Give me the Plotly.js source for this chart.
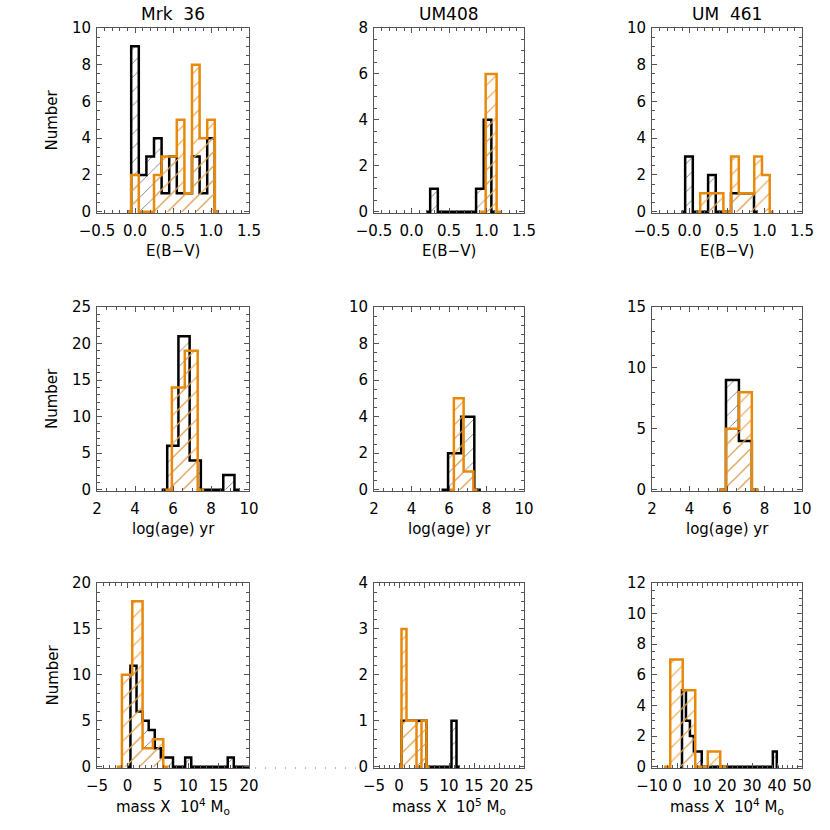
<!DOCTYPE html>
<html>
<head>
<meta charset="utf-8">
<script src="https://cdn.plot.ly/plotly-3.0.1.min.js"></script>
<style>
  body { margin: 0; background: #fff; }
  #plot { width: 830px; height: 830px; }
</style>
</head>
<body>
<div id="plot"></div>
<script>
// histogram counts (first and last entries are the empty end bins)
// E(B-V)
const mrkEbvBlack = [0, 9, 2, 3, 4, 1, 3, 1, 1, 3, 1, 4, 0];
const mrkEbvOrange = [0, 2, 0, 0, 2, 3, 3, 5, 1, 8, 4, 5, 0];
const um408EbvBlack = [0, 1, 0, 0, 0, 0, 0, 1, 4, 0];
const um408EbvOrange = [0, 6, 0];
const um461EbvBlack = [0, 3, 0, 0, 2, 0, 0, 1, 1, 1, 0];
const um461EbvOrange = [0, 1, 1, 1, 0, 3, 1, 1, 3, 2, 0];
// log(age)
const mrkAgeBlack = [0, 6, 21, 4, 0, 0, 2, 0];
const mrkAgeOrange = [0, 14, 19, 0];
const um408AgeBlack = [0, 2, 4, 0];
const um408AgeOrange = [0, 5, 1, 0];
const um461AgeBlack = [0, 9, 4, 0];
const um461AgeOrange = [0, 5, 8, 0];
// mass
const mrkMassBlack = [0, 11, 6, 5, 4, 2, 1, 1, 0, 0, 1, 0, 0, 0, 0, 0, 0, 1, 0, 0, 0];
const mrkMassOrange = [0, 10, 18, 2, 3, 0];
const um408MassBlack = [0, 1, 1, 1, 1, 1, 0, 0, 0, 0, 0, 1, 0];
const um408MassOrange = [0, 3, 1, 1, 0, 1, 0];
const um461MassBlack = [0, 5, 3, 2, 1, 1, 0, 0, 0, 0, 0, 0, 0, 0, 0, 0, 0, 0, 0, 0, 0, 0, 0, 0, 1, 0];
const um461MassOrange = [0, 7, 5, 0, 1, 0];

// centre of the first bin and bin width for each histogram
const binStart = {
  mrkEbvBlack: -0.1, mrkEbvOrange: -0.1, um408EbvBlack: 0.198, um408EbvOrange: 0.916,
  um461EbvBlack: -0.109, um461EbvOrange: 0.091,
  mrkAgeBlack: 5.4, mrkAgeOrange: 5.6, um408AgeBlack: 5.6, um408AgeOrange: 6.0,
  um461AgeBlack: 5.6, um461AgeOrange: 5.6,
  mrkMassBlack: 0, mrkMassOrange: -1.75, um408MassBlack: 0, um408MassOrange: 0,
  um461MassBlack: 1.21, um461MassOrange: -5.2
};
const binWidth = {
  mrkEbvBlack: 0.1, mrkEbvOrange: 0.1, um408EbvBlack: 0.102, um408EbvOrange: 0.146,
  um461EbvBlack: 0.102, um461EbvOrange: 0.103,
  mrkAgeBlack: 0.59, mrkAgeOrange: 0.68, um408AgeBlack: 0.7, um408AgeOrange: 0.52,
  um461AgeBlack: 0.69, um461AgeOrange: 0.69,
  mrkMassBlack: 1, mrkMassOrange: 1.7, um408MassBlack: 1, um408MassOrange: 1,
  um461MassBlack: 1.58, um461MassOrange: 5
};

const galaxies = ['Mrk\u00a0\u00a036', 'UM408', 'UM\u00a0\u00a0461'];
const xTitles = [
  ['E(B\u2212V)', 'E(B\u2212V)', 'E(B\u2212V)'],
  ['log(age)\u00a0yr', 'log(age)\u00a0yr', 'log(age)\u00a0yr'],
  ['mass\u00a0X\u00a0\u00a010<sup>4</sup>\u00a0M<sub>o</sub>', 'mass\u00a0X\u00a0\u00a010<sup>5</sup>\u00a0M<sub>o</sub>', 'mass\u00a0X\u00a0\u00a010<sup>4</sup>\u00a0M<sub>o</sub>']
];

const fam = '"DejaVu Sans", sans-serif';
const axc = '#555';
const orange = '#e8890c';

// panel boxes in pixels
const W = 830, H = 830;
const colPx = [[97, 249], [374, 524], [652, 802]];
const rowPx = [[28, 213], [307, 491], [583, 768]];

// one entry per panel, row by row
const panels = [
  {b: 'mrkEbvBlack', o: 'mrkEbvOrange', xr: [-0.5, 1.5], xd: 0.5, xm: 0.1, xf: '.1f', ymax: 10, yd: 2, ym: 0.5},
  {b: 'um408EbvBlack', o: 'um408EbvOrange', xr: [-0.5, 1.5], xd: 0.5, xm: 0.1, xf: '.1f', ymax: 8, yd: 2, ym: 0.5},
  {b: 'um461EbvBlack', o: 'um461EbvOrange', xr: [-0.5, 1.5], xd: 0.5, xm: 0.1, xf: '.1f', ymax: 10, yd: 2, ym: 0.5},
  {b: 'mrkAgeBlack', o: 'mrkAgeOrange', xr: [2, 10], xd: 2, xm: 0.5, xf: '', ymax: 25, yd: 5, ym: 1},
  {b: 'um408AgeBlack', o: 'um408AgeOrange', xr: [2, 10], xd: 2, xm: 0.5, xf: '', ymax: 10, yd: 2, ym: 0.5},
  {b: 'um461AgeBlack', o: 'um461AgeOrange', xr: [2, 10], xd: 2, xm: 0.5, xf: '', ymax: 15, yd: 5, ym: 1},
  {b: 'mrkMassBlack', o: 'mrkMassOrange', xr: [-5, 20], xd: 5, xm: 1, xf: '', ymax: 20, yd: 5, ym: 1},
  {b: 'um408MassBlack', o: 'um408MassOrange', xr: [-5, 25], xd: 5, xm: 1, xf: '', ymax: 4, yd: 1, ym: 0.2},
  {b: 'um461MassBlack', o: 'um461MassOrange', xr: [-10, 50], xd: 10, xm: 2, xf: '', ymax: 12, yd: 2, ym: 0.5}
];
const counts = {
  mrkEbvBlack, mrkEbvOrange, um408EbvBlack, um408EbvOrange, um461EbvBlack, um461EbvOrange,
  mrkAgeBlack, mrkAgeOrange, um408AgeBlack, um408AgeOrange, um461AgeBlack, um461AgeOrange,
  mrkMassBlack, mrkMassOrange, um408MassBlack, um408MassOrange, um461MassBlack, um461MassOrange
};

// IDL psym=10 style step: half-width end bins, steps at bin midpoints
function stepTrace(name, color, hatch, solidity, ax) {
  const c = counts[name], x0 = binStart[name], dx = binWidth[name];
  const x = [x0], y = [c[0]];
  for (let i = 1; i < c.length; i++) {
    x.push(x0 + (i - 0.5) * dx);
    y.push(c[i]);
  }
  x.push(x0 + (c.length - 1) * dx);
  y.push(c[c.length - 1]);
  return {
    x: x, y: y, xaxis: 'x' + ax, yaxis: 'y' + ax,
    type: 'scatter', mode: 'lines',
    line: {shape: 'hv', color: color, width: 2.5},
    fill: 'tozeroy', fillcolor: 'rgba(0,0,0,0)',
    fillpattern: {shape: '/', fgcolor: hatch, bgcolor: 'rgba(0,0,0,0)', size: 10, solidity: solidity, fillmode: 'replace'},
    hoverinfo: 'skip', showlegend: false
  };
}

const data = [];
const layout = {
  width: W, height: H,
  margin: {l: 0, r: 0, t: 0, b: 0},
  paper_bgcolor: '#fff', plot_bgcolor: '#fff',
  font: {family: fam, size: 15, color: '#000'},
  showlegend: false,
  annotations: [],
  shapes: []
};

panels.forEach(function (p, i) {
  const s = i === 0 ? '' : String(i + 1);
  const row = Math.floor(i / 3), col = i % 3;
  const cx = colPx[col], ry = rowPx[row];

  data.push(stepTrace(p.b, '#000', 'rgb(110,110,110)', 0.08, s));
  data.push(stepTrace(p.o, orange, 'rgb(242,172,90)', 0.12, s));

  const common = {
    ticks: 'inside', ticklen: 5, tickwidth: 1, tickcolor: axc,
    showline: true, linecolor: axc, linewidth: 1, mirror: 'allticks',
    showgrid: false, zeroline: false, fixedrange: true, tick0: 0,
    tickfont: {family: fam, size: 15, color: '#000'}
  };
  layout['xaxis' + s] = Object.assign({}, common, {
    domain: [cx[0] / W, cx[1] / W], anchor: 'y' + s,
    range: p.xr, dtick: p.xd, tickformat: p.xf, ticklabelstandoff: 4,
    minor: {dtick: p.xm, tick0: 0, ticks: 'inside', ticklen: 3, tickcolor: axc}
  });
  // a hair below zero so the thick zero-level steps are not clipped
  layout['yaxis' + s] = Object.assign({}, common, {
    domain: [1 - ry[1] / H, 1 - ry[0] / H], anchor: 'x' + s,
    range: [-0.007 * p.ymax, p.ymax], dtick: p.yd, ticklabelstandoff: 2,
    minor: {dtick: p.ym, tick0: 0, ticks: 'inside', ticklen: 3, tickcolor: axc}
  });

  // x axis title under each panel
  layout.annotations.push({
    text: xTitles[row][col], xref: 'paper', yref: 'paper',
    x: (cx[0] + cx[1]) / 2 / W, y: 1 - (ry[1] + 38) / H,
    xanchor: 'center', yanchor: 'middle', showarrow: false,
    font: {family: fam, size: 15, color: '#000'}
  });
});

// galaxy names above the top row
galaxies.forEach(function (g, col) {
  layout.annotations.push({
    text: g, xref: 'paper', yref: 'paper',
    x: (colPx[col][0] + colPx[col][1]) / 2 / W, y: 1 - 14 / H,
    xanchor: 'center', yanchor: 'middle', showarrow: false,
    font: {family: fam, size: 17, color: '#000'}
  });
});

// "Number" on the left column
rowPx.forEach(function (ry) {
  layout.annotations.push({
    text: 'Number', xref: 'paper', yref: 'paper',
    x: 52 / W, y: 1 - (ry[0] + ry[1]) / 2 / H, textangle: -90,
    xanchor: 'center', yanchor: 'middle', showarrow: false,
    font: {family: fam, size: 15, color: '#000'}
  });
});

// stray dotted line between the two lower-left panels
layout.shapes.push({
  type: 'line', xref: 'paper', yref: 'paper',
  x0: 255 / W, x1: 368 / W, y0: 1 - 768 / H, y1: 1 - 768 / H,
  line: {color: '#777', width: 1, dash: '1px,9px'}
});

Plotly.newPlot('plot', data, layout, {displayModeBar: false, staticPlot: true});
</script>
</body>
</html>
